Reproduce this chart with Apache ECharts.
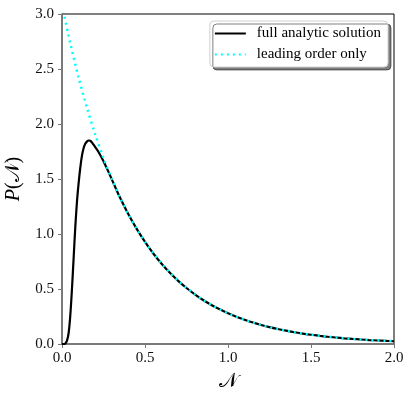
<!DOCTYPE html>
<html>
<head>
<meta charset="utf-8">
<script src="https://cdn.jsdelivr.net/npm/echarts@6/dist/echarts.min.js"></script>
<style>
  html, body { margin: 0; padding: 0; background: #fff; }
  #chart { width: 413px; height: 398px; }
</style>
</head>
<body>
<div id="chart"></div>
<script>
// full analytic solution
const fullN = [0, 0.01, 0.02, 0.03, 0.04, 0.05, 0.06, 0.07, 0.08, 0.09, 0.10, 0.11, 0.12, 0.13, 0.14, 0.15, 0.16, 0.17, 0.18, 0.19, 0.20, 0.22, 0.24, 0.26, 0.28, 0.30,
  0.35, 0.40, 0.45, 0.50, 0.55, 0.60, 0.65, 0.70, 0.75, 0.80, 0.85, 0.90, 0.95, 1.00, 1.05, 1.10, 1.15, 1.20, 1.25, 1.30, 1.35, 1.40, 1.45, 1.50,
  1.55, 1.60, 1.65, 1.70, 1.75, 1.80, 1.85, 1.90, 1.95, 2.00];
const fullP = [0, 0, 0.005, 0.03, 0.10, 0.26, 0.50, 0.78, 1.06, 1.29, 1.46, 1.60, 1.71, 1.78, 1.82, 1.84, 1.85, 1.848, 1.833, 1.812, 1.79, 1.745, 1.69, 1.63, 1.565, 1.497,
  1.329, 1.179, 1.046, 0.928, 0.823, 0.730, 0.647, 0.574, 0.509, 0.452, 0.400, 0.355, 0.315, 0.279, 0.248, 0.220, 0.195, 0.173, 0.153, 0.136, 0.121, 0.107, 0.095, 0.084,
  0.075, 0.066, 0.059, 0.052, 0.046, 0.041, 0.036, 0.032, 0.029, 0.025];

// leading order only
const leadN = [0, 0.05, 0.10, 0.15, 0.20, 0.25, 0.30, 0.35, 0.40, 0.45, 0.50, 0.55, 0.60, 0.65, 0.70, 0.75, 0.80, 0.85, 0.90, 0.95, 1.00,
  1.05, 1.10, 1.15, 1.20, 1.25, 1.30, 1.35, 1.40, 1.45, 1.50, 1.55, 1.60, 1.65, 1.70, 1.75, 1.80, 1.85, 1.90, 1.95, 2.00];
const leadP = [3.08, 2.732, 2.423, 2.149, 1.906, 1.690, 1.499, 1.330, 1.179, 1.046, 0.928, 0.823, 0.730, 0.647, 0.574, 0.509, 0.452, 0.400, 0.355, 0.315, 0.279,
  0.248, 0.220, 0.195, 0.173, 0.153, 0.136, 0.121, 0.107, 0.095, 0.084, 0.075, 0.066, 0.059, 0.052, 0.046, 0.041, 0.036, 0.032, 0.029, 0.025];

const seriesNames = ["full analytic solution", "leading order only"];

const serif = "'Liberation Serif', 'DejaVu Serif', serif";
const chart = echarts.init(document.getElementById("chart"), null, { renderer: "canvas" });

chart.setOption({
  animation: false,
  grid: { left: 62, right: 19, top: 14, bottom: 54, show: true, borderColor: "#000", borderWidth: 1,
    containLabel: false, outerBoundsMode: "none" },
  legend: {
    right: 25, top: 21,
    orient: "vertical",
    itemWidth: 31, itemHeight: 10, itemGap: 6,
    padding: [5, 7, 5, 4],
    backgroundColor: "#fff",
    borderColor: "#d0d0d0", borderWidth: 1, borderRadius: 4,
    shadowColor: "rgba(0,0,0,0.5)", shadowBlur: 0, shadowOffsetX: 3, shadowOffsetY: 3,
    itemStyle: { opacity: 0 },
    textStyle: { fontFamily: serif, fontSize: 15, color: "#000", padding: [0, 0, 0, 6] },
    data: seriesNames
  },
  xAxis: {
    type: "value", min: 0, max: 2, interval: 0.5,
    name: "𝒩", nameLocation: "middle", nameGap: 28,
    nameTextStyle: { fontFamily: serif, fontSize: 20, color: "#000" },
    axisLine: { lineStyle: { color: "#777", width: 1.5 } },
    axisTick: { inside: false, length: 4, lineStyle: { color: "#777" } },
    axisLabel: { fontFamily: serif, fontSize: 15, color: "#111", margin: 7, formatter: v => v.toFixed(1) },
    splitLine: { show: false }
  },
  yAxis: {
    type: "value", min: 0, max: 3, interval: 0.5,
    name: "{p|P}(𝒩)", nameLocation: "middle", nameGap: 38, nameRotate: 90,
    nameTextStyle: { fontFamily: serif, fontSize: 20, color: "#000",
      rich: { p: { fontFamily: serif, fontSize: 20, fontStyle: "italic", color: "#000" } } },
    axisLine: { lineStyle: { color: "#777", width: 1.5 } },
    axisTick: { inside: false, length: 4, lineStyle: { color: "#777" } },
    axisLabel: { fontFamily: serif, fontSize: 15, color: "#111", margin: 8, formatter: v => v.toFixed(1) },
    splitLine: { show: false }
  },
  series: [
    {
      name: seriesNames[0], type: "line", showSymbol: false, symbol: "none", smooth: 0.3,
      data: fullN.map((n, i) => [n, fullP[i]]),
      lineStyle: { color: "#000", width: 2.2 },
      itemStyle: { color: "#000" },
      z: 2
    },
    {
      name: seriesNames[1], type: "line", showSymbol: false, symbol: "none", smooth: 0.3,
      data: leadN.map((n, i) => [n, leadP[i]]),
      lineStyle: { color: "#00ffff", width: 2.5, type: [2, 4] },
      itemStyle: { color: "#00ffff" },
      clip: true,
      z: 3
    }
  ]
});
</script>
</body>
</html>
